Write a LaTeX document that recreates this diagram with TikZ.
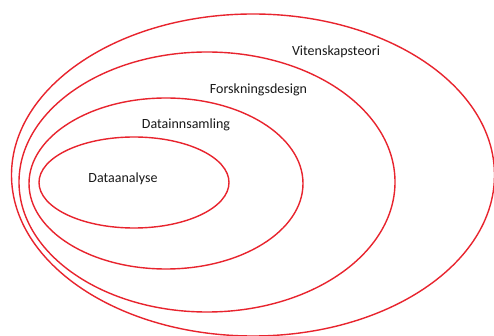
\documentclass[tikz,border=0pt]{standalone}
\usepackage{fontspec}
\setmainfont{Carlito}
\definecolor{ringred}{RGB}{232,36,46}
\definecolor{labelgray}{RGB}{25,25,25}
\begin{document}
\begin{tikzpicture}[x=1pt,y=-1pt,
  ring/.style={draw=ringred,line width=1.4pt},
  lbl/.style={text=labelgray,font=\fontsize{14}{16}\selectfont,inner sep=0pt}]
\useasboundingbox (0,0) rectangle (494,336);
\fill[white] (0,0) rectangle (494,336);
\draw[ring] (253,175) ellipse [x radius=241.5, y radius=161];
\draw[ring] (207,182) ellipse [x radius=188, y radius=130];
\draw[ring] (166,183.5) ellipse [x radius=137, y radius=85.5];
\draw[ring] (134,182.5) ellipse [x radius=95, y radius=45.5];
\node[lbl] (vit) at (336,52) {Vitenskapsteori};
\node[lbl] (for) at (258.5,90) {Forskningsdesign};
\node[lbl] (inn) at (186,125) {Datainnsamling};
\node[lbl] (ana) at (123,179) {Dataanalyse};
\end{tikzpicture}
\end{document}
